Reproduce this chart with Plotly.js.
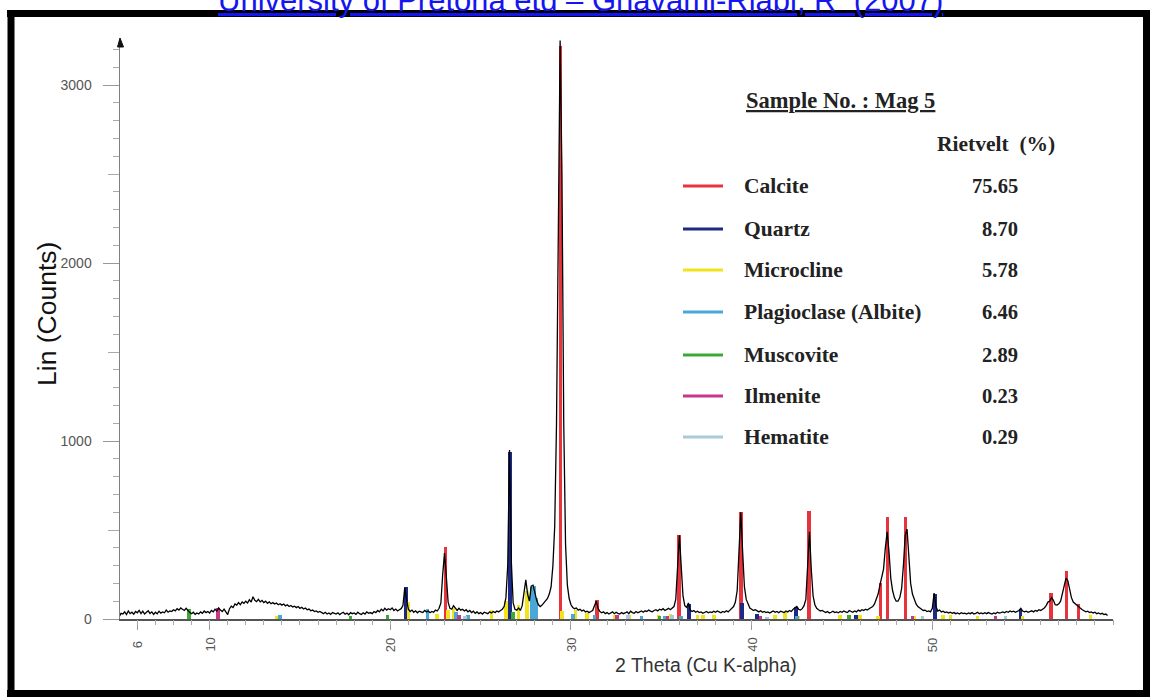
<!DOCTYPE html>
<html>
<head>
<meta charset="utf-8">
<script src="https://cdn.plot.ly/plotly-3.0.1.min.js"></script>
<style>
html,body{margin:0;padding:0;background:#fff;}
#chart{width:1150px;height:697px;}
</style>
</head>
<body>
<div id="chart"></div>
<script>
// ---------------- DATA ----------------
// XRD scan: start angle, step (instrument grid) and counts
const scanStart = 5.0;
const scanStep = 0.1;
const counts = [
  15, 32, 28, 40, 25, 45, 30, 38, 27, 42,      // 5
  35, 48, 30, 44, 28, 36, 46, 31, 40, 26,      // 6
  38, 29, 44, 33, 40, 35, 50, 38, 45, 42,      // 7
  52, 46, 58, 50, 62, 55, 48, 60, 45, 36,      // 8
  30, 38, 26, 34, 28, 40, 32, 45, 36, 42,      // 9
  34, 48, 40, 55, 45, 62, 50, 42, 56, 38,      // 10
  25, 58, 72, 65, 85, 78, 92, 80, 96, 88,      // 11
  100, 90, 108, 95, 125, 105, 98, 110, 96, 104,// 12
  92, 100, 88, 96, 86, 92, 84, 90, 80, 86,     // 13
  78, 84, 74, 80, 70, 76, 68, 72, 64, 70,      // 14
  60, 66, 56, 62, 52, 56, 46, 50, 42, 45,      // 15
  38, 42, 34, 30, 38, 28, 34, 26, 36, 30,      // 16
  28, 35, 25, 32, 38, 27, 33, 24, 36, 30,      // 17
  34, 26, 38, 30, 25, 35, 28, 40, 32, 36,      // 18
  30, 42, 36, 48, 40, 55, 46, 60, 50, 58,      // 19
  52, 62, 48, 56, 45, 52, 58, 75, 175, 110,    // 20
  55, 42, 50, 38, 46, 35, 44, 40, 36, 48,      // 21
  40, 45, 35, 42, 38, 50, 45, 60, 90, 250,     // 22
  370, 240, 95, 60, 55, 75, 58, 48, 60, 50,    // 23
  55, 45, 52, 40, 48, 36, 44, 32, 40, 30,      // 24
  36, 28, 38, 32, 30, 40, 34, 42, 36, 45,      // 25
  40, 48, 55, 70, 120, 300, 950, 320, 90, 55,  // 26
  50, 62, 48, 75, 150, 220, 140, 100, 185, 190,// 27
  150, 105, 80, 70, 78, 90, 100, 115, 140, 180,// 28
  300, 520, 1100, 2350, 3250, 2500, 1100, 420, 190, 115, // 29
  80, 65, 58, 62, 50, 55, 45, 50, 40, 44,      // 30
  36, 42, 48, 75, 100, 60, 42, 35, 40, 30,     // 31
  36, 28, 34, 40, 30, 38, 32, 28, 36, 30,      // 32
  34, 40, 30, 44, 36, 32, 42, 35, 40, 45,      // 33
  38, 46, 42, 50, 44, 40, 48, 52, 45, 55,      // 34
  50, 58, 48, 56, 60, 52, 62, 70, 110, 260,    // 35
  470, 300, 130, 75, 65, 90, 50, 42, 48, 38,   // 36
  44, 36, 40, 32, 38, 42, 35, 40, 36, 44,      // 37
  38, 45, 40, 35, 42, 38, 46, 40, 50, 58,      // 38
  70, 95, 160, 380, 600, 380, 180, 110, 80, 62,// 39
  55, 48, 52, 45, 40, 46, 38, 42, 36, 40,      // 40
  34, 40, 45, 38, 42, 35, 44, 40, 36, 45,      // 41
  40, 48, 42, 55, 65, 70, 55, 50, 58, 75,      // 42
  110, 300, 490, 280, 130, 80, 60, 52, 45, 48, // 43
  40, 36, 42, 34, 38, 44, 36, 40, 35, 42,      // 44
  38, 45, 40, 36, 48, 42, 38, 45, 40, 50,      // 45
  44, 52, 48, 55, 50, 58, 62, 70, 85, 110,     // 46
  140, 190, 230, 280, 400, 490, 380, 230, 160, 120, // 47
  100, 100, 120, 170, 300, 470, 505, 330, 200, 140, // 48
  105, 85, 70, 62, 55, 48, 50, 42, 45, 40,     // 49
  60, 145, 70, 45, 50, 40, 44, 36, 40, 34,     // 50
  38, 32, 36, 30, 34, 28, 35, 30, 33, 28,      // 51
  34, 30, 36, 28, 32, 38, 30, 34, 29, 35,      // 52
  30, 36, 32, 28, 34, 30, 38, 33, 36, 40,      // 53
  35, 42, 38, 45, 40, 44, 38, 42, 48, 60,      // 54
  45, 40, 44, 38, 42, 46, 40, 48, 44, 52,      // 55
  48, 55, 62, 75, 95, 100, 120, 105, 80, 78,   // 56
  85, 100, 140, 190, 230, 215, 170, 120, 95, 85, // 57
  78, 70, 60, 52, 46, 40, 44, 36, 40, 34,      // 58
  38, 30, 34, 28, 32, 25, 28, 20               // 59
];

// Phase reference sticks (2θ position, intensity)
const calcitePos = [23.06, 29.41, 31.44, 35.97, 39.42, 43.17, 47.13, 47.51, 48.52, 56.58, 57.42, 58.10];
const calciteInt = [405, 3220, 105, 470, 600, 605, 200, 575, 575, 148, 271, 85];
const quartzPos = [20.86, 26.64, 36.54, 39.47, 40.29, 42.45, 45.79, 50.14, 54.87];
const quartzInt = [180, 940, 85, 90, 30, 70, 25, 140, 55];
const microclinePos = [13.7, 21.0, 22.6, 23.2, 23.5, 24.3, 25.6, 26.4, 27.1, 27.55, 29.5, 30.25, 30.9, 32.4, 33.2, 34.85, 35.5, 37.0, 37.3, 37.9, 41.3, 41.85, 42.6, 44.9, 46.0, 47.0, 48.97, 50.6, 51.0, 52.5, 53.5, 55.0, 58.75];
const microclineInt = [15, 95, 30, 50, 60, 25, 50, 100, 80, 160, 45, 50, 33, 22, 25, 25, 28, 22, 22, 20, 22, 38, 18, 20, 25, 18, 17, 22, 20, 15, 15, 15, 22];
const albitePos = [13.9, 22.05, 23.65, 24.3, 27.84, 27.98, 28.1, 30.1, 31.3, 33.9, 35.2, 36.1, 42.5];
const albiteInt = [20, 55, 40, 25, 180, 185, 120, 30, 25, 15, 15, 15, 15];
const muscovitePos = [8.85, 17.8, 19.85, 26.8, 34.9, 45.4];
const muscoviteInt = [55, 18, 25, 40, 18, 20];
const ilmenitePos = [10.45, 23.8, 32.55, 35.35, 40.5, 48.9, 53.5];
const ilmeniteInt = [60, 20, 22, 18, 15, 15, 15];
const hematitePos = [24.15, 33.15, 35.6, 40.85, 49.45, 54.05];
const hematiteInt = [18, 25, 22, 12, 15, 18];

// Legend / labels
const phaseNames = ['Calcite', 'Quartz', 'Microcline', 'Plagioclase (Albite)', 'Muscovite', 'Ilmenite', 'Hematite'];
const phaseColors = ['#e8323c', '#1c2a85', '#f2e41c', '#4aa8d8', '#3aaa35', '#c8378a', '#a9c9dc'];
const rietveldPct = ['75.65', '8.70', '5.78', '6.46', '2.89', '0.23', '0.29'];
const sampleTitle = 'Sample No. : Mag 5';
const rietveldHeader = 'Rietvelt  (%)';
const sourceText = 'University of Pretoria etd \u2013 Ghavami-Riabi, R  (2007)';
const xTitle = '2 Theta (Cu K-alpha)';
const yTitle = 'Lin (Counts)';
const xTickVals = [6, 10, 20, 30, 40, 50];
const xTickText = ['6', '10', '20', '30', '40', '50'];
const yTickVals = [0, 1000, 2000, 3000];
const yTickText = ['0', '1000', '2000', '3000'];

// ---------------- LAYOUT GEOMETRY ----------------
const W = 1150, H = 697;
const ML = 120, MR = 37, MT = 40, MB = 78;
const PW = W - ML - MR, PH = H - MT - MB;
const px = v => (v - ML) / PW;           // pixel x -> paper
const py = v => (H - MB - v) / PH;       // pixel y -> paper

const twoTheta = counts.map((_, i) => +(scanStart + i * scanStep).toFixed(2));

const stickSets = [
  [calcitePos, calciteInt, 0, 0.2],
  [quartzPos, quartzInt, 1, 0.2],
  [microclinePos, microclineInt, 2, 0.2],
  [albitePos, albiteInt, 3, 0.2],
  [muscovitePos, muscoviteInt, 4, 0.2],
  [ilmenitePos, ilmeniteInt, 5, 0.2],
  [hematitePos, hematiteInt, 6, 0.2]
];

const traces = stickSets.map(([pos, inten, ci, w]) => ({
  type: 'bar', x: pos, y: inten, width: w, name: phaseNames[ci],
  marker: {color: phaseColors[ci], line: {width: 0}}, hoverinfo: 'x+y+name'
}));

traces.push({
  type: 'scatter', mode: 'lines', x: twoTheta, y: counts, name: 'Mag 5',
  line: {color: '#000000', width: 1.3}
});
// dummy traces anchoring the secondary tick axes (minor tick levels)
traces.push({type: 'scatter', mode: 'markers', x: [6], y: [0], yaxis: 'y2',
  marker: {opacity: 0}, hoverinfo: 'skip', showlegend: false});
traces.push({type: 'scatter', mode: 'markers', x: [6], y: [0], xaxis: 'x2',
  marker: {opacity: 0}, hoverinfo: 'skip', showlegend: false});

const annotations = [];
const shapes = [];
const sans = 'Liberation Sans, Arial, sans-serif';

// source line at top
annotations.push({
  xref: 'paper', yref: 'paper', x: px(580), y: py(1), xanchor: 'center', yanchor: 'middle',
  text: '<u>' + sourceText + '</u>', showarrow: false,
  font: {family: sans, size: 31, color: '#1515f0'}
});
// x tick labels (rotated), positioned through the x scale
xTickVals.forEach((v, i) => {
  annotations.push({
    xref: 'x', yref: 'paper', x: v, y: py(645), xanchor: 'center', yanchor: 'middle',
    text: xTickText[i], textangle: -90, showarrow: false,
    font: {family: sans, size: 13, color: '#555'}
  });
});
// axis titles
annotations.push({
  xref: 'paper', yref: 'paper', x: px(706), y: py(665), xanchor: 'center', yanchor: 'middle',
  text: xTitle, showarrow: false,
  font: {family: sans, size: 19.5, color: '#333'}
});
annotations.push({
  xref: 'paper', yref: 'paper', x: px(47), y: py(314), xanchor: 'center', yanchor: 'middle',
  text: yTitle, textangle: -90, showarrow: false,
  font: {family: sans, size: 26.5, color: '#111'}
});
// legend header
const serif = 'Liberation Serif, Times New Roman, serif';
annotations.push({
  xref: 'paper', yref: 'paper', x: px(840), y: py(100), xanchor: 'center', yanchor: 'middle',
  text: '<b><u>' + sampleTitle + '</u></b>', showarrow: false,
  font: {family: serif, size: 22.5, color: '#222'}
});
annotations.push({
  xref: 'paper', yref: 'paper', x: px(1057), y: py(144), xanchor: 'right', yanchor: 'middle',
  text: '<b>' + rietveldHeader + '</b>', showarrow: false,
  font: {family: serif, size: 21.5, color: '#222'}
});
const rowY = [186, 229, 270, 312, 355, 396, 437];
phaseNames.forEach((n, i) => {
  shapes.push({type: 'line', xref: 'paper', yref: 'paper',
    x0: px(683), x1: px(723), y0: py(rowY[i]), y1: py(rowY[i]),
    line: {color: phaseColors[i], width: 3}});
  annotations.push({xref: 'paper', yref: 'paper', x: px(742), y: py(rowY[i]),
    xanchor: 'left', yanchor: 'middle', text: '<b>' + n + '</b>', showarrow: false,
    font: {family: serif, size: 21.5, color: '#222'}});
  annotations.push({xref: 'paper', yref: 'paper', x: px(1020), y: py(rowY[i]),
    xanchor: 'right', yanchor: 'middle', text: '<b>' + rietveldPct[i] + '</b>', showarrow: false,
    font: {family: serif, size: 20.5, color: '#222'}});
});

// y-axis arrow head
shapes.push({type: 'path', xref: 'paper', yref: 'paper',
  path: `M ${px(117.5)} ${py(47)} L ${px(120)} ${py(38)} L ${px(123.5)} ${py(47)} Z`,
  fillcolor: '#111', line: {color: '#111', width: 1}});

// black frame
const frame = {color: '#000', width: 7};
shapes.push({type: 'line', xref: 'paper', yref: 'paper', x0: px(7), x1: px(1150), y0: py(13.5), y1: py(13.5), line: frame, layer: 'above'});
shapes.push({type: 'line', xref: 'paper', yref: 'paper', x0: px(11), x1: px(11), y0: py(10), y1: py(697), line: frame, layer: 'above'});
shapes.push({type: 'line', xref: 'paper', yref: 'paper', x0: px(7), x1: px(1150), y0: py(693.5), y1: py(693.5), line: frame, layer: 'above'});
shapes.push({type: 'line', xref: 'paper', yref: 'paper', x0: px(1146.5), x1: px(1146.5), y0: py(10), y1: py(697), line: frame, layer: 'above'});

const xRange = [5.04, 60.0];
const yRange = [0, 3253];

const layout = {
  width: W, height: H,
  margin: {l: ML, r: MR, t: MT, b: MB, pad: 0},
  paper_bgcolor: '#ffffff', plot_bgcolor: '#ffffff',
  showlegend: false,
  barmode: 'overlay', bargap: 0,
  xaxis: {
    range: xRange, showgrid: false, zeroline: false,
    showline: true, linecolor: '#555', linewidth: 1.5,
    tickmode: 'array', tickvals: xTickVals, ticktext: xTickText, showticklabels: false,
    ticks: 'outside', ticklen: 9, tickwidth: 1, tickcolor: '#999',
    fixedrange: true
  },
  xaxis2: {
    overlaying: 'x', side: 'bottom', anchor: 'y', range: xRange,
    showgrid: false, zeroline: false, showline: false, showticklabels: false,
    tickmode: 'linear', tick0: 0, dtick: 1,
    ticks: 'outside', ticklen: 5, tickwidth: 1, tickcolor: '#aaa',
    fixedrange: true
  },
  yaxis: {
    range: yRange, showgrid: false, zeroline: false,
    showline: true, linecolor: '#808080', linewidth: 1.5,
    ticks: 'outside', tickvals: yTickVals, ticktext: yTickText, ticklen: 16, tickwidth: 1, tickcolor: '#999',
    ticklabelstandoff: 8,
    tickfont: {family: sans, size: 14, color: '#555'},
    minor: {dtick: 100, ticks: 'outside', ticklen: 6, tickcolor: '#aaa', tickwidth: 1, showgrid: false},
    fixedrange: true
  },
  yaxis2: {
    overlaying: 'y', side: 'left', anchor: 'x', range: yRange,
    showgrid: false, zeroline: false, showline: false, showticklabels: false,
    ticks: 'outside', tickvals: [500, 1500, 2500], ticklen: 11, tickwidth: 1, tickcolor: '#aaa',
    fixedrange: true
  },
  annotations: annotations,
  shapes: shapes
};

Plotly.newPlot('chart', traces, layout, {displayModeBar: false, staticPlot: true});
</script>
</body>
</html>
